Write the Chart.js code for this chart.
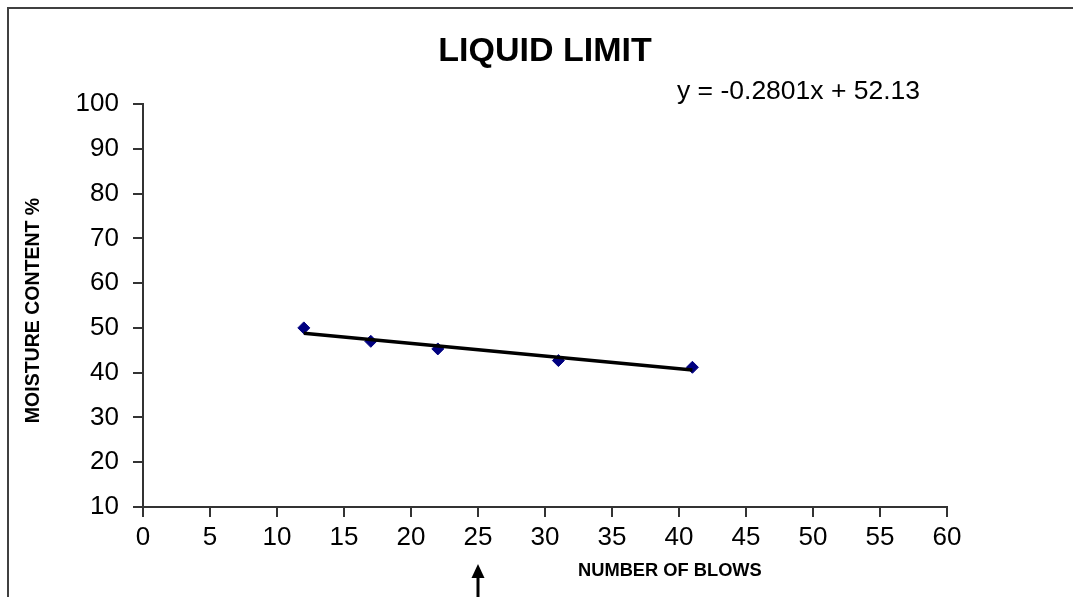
<!DOCTYPE html>
<html>
<head>
<meta charset="utf-8">
<script src="https://cdn.jsdelivr.net/npm/chart.js@4/dist/chart.umd.min.js"></script>
<style>
    html, body { margin: 0; padding: 0; background: #fff; }
    #wrap { width: 1073px; height: 597px; position: relative; }
</style>
</head>
<body>
<div id="wrap"><canvas id="llChart" width="1073" height="597"></canvas></div>
<script>
// readings
const blows = [12, 17, 22, 31, 41];
const moisture = [50.0, 47.0, 45.3, 42.7, 41.2];
// trendline ends (from the fitted line shown)
const trendBlows = [12, 41];
const trendMoisture = [48.8, 40.6];
const xTicks = [0, 60, 5];
const yTicks = [10, 100, 10];
const arrowAt = 25;

const titleText = 'LIQUID LIMIT';
const equationText = 'y = -0.2801x + 52.13';
const xTitle = 'NUMBER OF BLOWS';
const yTitle = 'MOISTURE CONTENT %';

const FONT = '"Liberation Sans", Arial, sans-serif';
const AXIS = '#333333';

const textPlugin = {
    id: 'texts',
    afterDraw(chart) {
        const ctx = chart.ctx;
        const area = chart.chartArea;
        const xs = chart.scales.x;
        ctx.save();

        // outer frame (top + left only visible)
        ctx.strokeStyle = '#404040';
        ctx.lineWidth = 2;
        ctx.beginPath();
        ctx.moveTo(8, 600);
        ctx.lineTo(8, 8);
        ctx.lineTo(1080, 8);
        ctx.stroke();

        ctx.fillStyle = '#000';
        ctx.textBaseline = 'alphabetic';

        // title
        ctx.font = 'bold 34px ' + FONT;
        ctx.textAlign = 'center';
        ctx.fillText(titleText, (area.left + area.right) / 2, 61);

        // equation
        ctx.font = '26.5px ' + FONT;
        ctx.textAlign = 'left';
        ctx.fillText(equationText, 677, 99);

        // x title
        ctx.font = 'bold 18.3px ' + FONT;
        ctx.textAlign = 'left';
        ctx.fillText(xTitle, 578, 576);

        // y title
        ctx.save();
        ctx.font = 'bold 19.5px ' + FONT;
        ctx.translate(39, (area.top + area.bottom) / 2 + 5);
        ctx.rotate(-Math.PI / 2);
        ctx.textAlign = 'center';
        ctx.fillText(yTitle, 0, 0);
        ctx.restore();

        // arrow under 25 blows
        const ax = xs.getPixelForValue(arrowAt);
        ctx.strokeStyle = '#000';
        ctx.lineWidth = 3;
        ctx.beginPath();
        ctx.moveTo(ax, 600);
        ctx.lineTo(ax, 575);
        ctx.stroke();
        ctx.beginPath();
        ctx.moveTo(ax, 564);
        ctx.lineTo(ax - 6.5, 578);
        ctx.lineTo(ax + 6.5, 578);
        ctx.closePath();
        ctx.fill();

        ctx.restore();
    }
};

new Chart(document.getElementById('llChart'), {
    type: 'scatter',
    data: {
        datasets: [
            {
                type: 'line',
                data: trendBlows.map((b, i) => ({ x: b, y: trendMoisture[i] })),
                borderColor: '#000',
                borderWidth: 3.5,
                pointRadius: 0,
                fill: false
            },
            {
                data: blows.map((b, i) => ({ x: b, y: moisture[i] })),
                pointStyle: 'rectRot',
                pointRadius: 6,
                backgroundColor: '#000080',
                borderColor: '#000080',
                borderWidth: 1
            }
        ]
    },
    options: {
        responsive: false,
        animation: false,
        layout: { padding: { top: 104, right: 126, left: 0, bottom: 0 } },
        plugins: {
            legend: { display: false },
            tooltip: { enabled: false },
            title: { display: false }
        },
        scales: {
            x: {
                type: 'linear',
                min: xTicks[0],
                max: xTicks[1],
                afterFit: s => { s.height = 90; },
                ticks: {
                    stepSize: xTicks[2],
                    color: '#000',
                    font: { family: FONT, size: 26 },
                    padding: 5,
                    maxRotation: 0
                },
                grid: { drawOnChartArea: false, tickLength: 10, color: AXIS, lineWidth: 2 },
                border: { color: AXIS, width: 2 }
            },
            y: {
                min: yTicks[0],
                max: yTicks[1],
                afterFit: s => { s.width = 143; },
                ticks: {
                    stepSize: yTicks[2],
                    color: '#000',
                    font: { family: FONT, size: 26 },
                    padding: 14
                },
                grid: { drawOnChartArea: false, tickLength: 10, color: AXIS, lineWidth: 2 },
                border: { color: AXIS, width: 2 }
            }
        }
    },
    plugins: [textPlugin]
});
</script>
</body>
</html>
